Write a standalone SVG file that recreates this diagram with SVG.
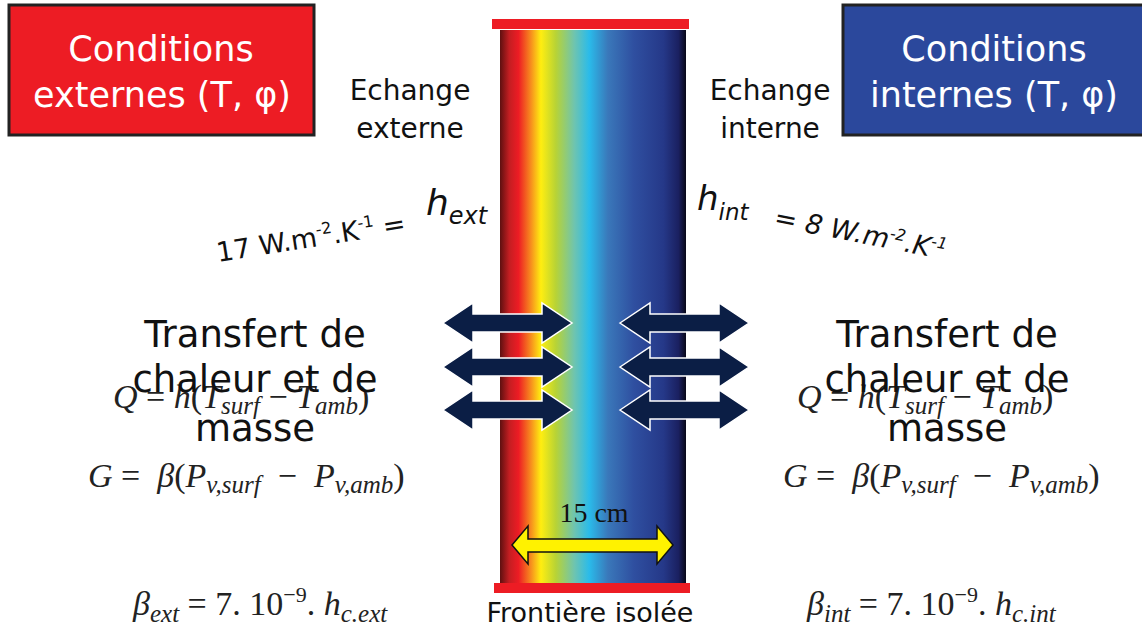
<svg xmlns="http://www.w3.org/2000/svg" width="1142" height="632" viewBox="0 0 1142 632">
<style>
.cs{font-family:"DejaVu Sans","Noto Sans",sans-serif;}
.box{fill:#fff;font-size:35px;text-anchor:middle;}
.lbl{fill:#111;font-size:28px;text-anchor:middle;}
.big{fill:#111;font-size:37px;text-anchor:middle;}
.m{font-family:"Liberation Serif","DejaVu Serif",serif;font-size:34px;fill:#222;font-style:italic;}
.up{font-style:normal;}
.arr{fill:#0B1E45;stroke:#fff;stroke-width:1.5;stroke-linejoin:miter;}
</style>
<defs>
<linearGradient id="wallg" x1="0" y1="0" x2="1" y2="0">
<stop offset="0" stop-color="#5E1010"/>
<stop offset="0.05" stop-color="#C41E22"/>
<stop offset="0.1" stop-color="#ED1C24"/>
<stop offset="0.17" stop-color="#F7941D"/>
<stop offset="0.22" stop-color="#FFEE10"/>
<stop offset="0.3" stop-color="#B8D335"/>
<stop offset="0.4" stop-color="#6EC4B0"/>
<stop offset="0.48" stop-color="#2ABBEA"/>
<stop offset="0.58" stop-color="#3A78BA"/>
<stop offset="0.72" stop-color="#2F4FA0"/>
<stop offset="0.88" stop-color="#253888"/>
<stop offset="0.96" stop-color="#1A2060"/>
<stop offset="1" stop-color="#080818"/>
</linearGradient>
<path id="dbl" d="M0,0 L30,-20 L30,-9 L99,-9 L99,-20 L129,0 L99,20 L99,9 L30,9 L30,20 Z"/>
</defs>

<g id="wall">
<rect x="500" y="30" width="186" height="554" fill="url(#wallg)"/>
<rect x="492" y="19" width="197" height="10" fill="#ED1C24"/>
<rect x="494" y="583" width="196" height="10" fill="#ED1C24"/>
</g>

<g id="ext-box">
<rect x="9" y="5" width="305" height="130" fill="#ED1C24" stroke="#222" stroke-width="3"/>
<text class="cs box" x="161" y="61">Conditions</text>
<text class="cs box" x="162" y="107">externes (T, φ)</text>
</g>

<g id="int-box">
<rect x="843" y="5" width="305" height="130" fill="#2B489C" stroke="#222" stroke-width="3"/>
<text class="cs box" x="994" y="61">Conditions</text>
<text class="cs box" x="994" y="107">internes (T, φ)</text>
</g>

<g id="echange-ext">
<text class="cs lbl" x="410" y="100">Echange</text>
<text class="cs lbl" x="410" y="138">externe</text>
</g>
<g id="echange-int">
<text class="cs lbl" x="770" y="100">Echange</text>
<text class="cs lbl" x="770" y="138">interne</text>
</g>

<g id="hext">
<text class="cs" x="218" y="262" font-size="27" fill="#111" transform="rotate(-9 218 262)">17 W.m<tspan font-size="16" dy="-11">-2</tspan><tspan dy="11">.K</tspan><tspan font-size="16" dy="-11">-1</tspan><tspan dy="11"> =</tspan></text>
<text class="cs" x="426" y="215" font-size="36" fill="#111" font-style="italic">h<tspan font-size="24" dy="9">ext</tspan></text>
</g>

<g id="hint">
<text class="cs" x="697" y="210" font-size="34" fill="#111" font-style="italic">h<tspan font-size="23" dy="10">int</tspan></text>
<text class="cs" x="773" y="226" font-size="27" fill="#111" font-style="italic" transform="rotate(11 773 226)">= 8 W.m<tspan font-size="16" dy="-10">-2</tspan><tspan dy="10">.K</tspan><tspan font-size="16" dy="-10">-1</tspan></text>
</g>

<g id="arrows-ext">
<use href="#dbl" class="arr" transform="translate(443,323)"/>
<use href="#dbl" class="arr" transform="translate(443,367)"/>
<use href="#dbl" class="arr" transform="translate(443,410)"/>
</g>
<g id="arrows-int">
<use href="#dbl" class="arr" transform="translate(620,323)"/>
<use href="#dbl" class="arr" transform="translate(620,367)"/>
<use href="#dbl" class="arr" transform="translate(620,410)"/>
</g>

<g id="formulas-ext">
<text class="m" x="113" y="408">Q <tspan class="up">=  </tspan>h<tspan class="up">(</tspan>T<tspan font-size="25" dy="6">surf</tspan><tspan class="up" dy="-6">  −  </tspan>T<tspan font-size="25" dy="6">amb</tspan><tspan class="up" dy="-6">)</tspan></text>
<text class="m" x="88" y="487" xml:space="preserve">G <tspan class="up">=  </tspan>β<tspan class="up">(</tspan>P<tspan font-size="25" dy="6">v,surf</tspan><tspan class="up" dy="-6">  −  </tspan>P<tspan font-size="25" dy="6">v,amb</tspan><tspan class="up" dy="-6">)</tspan></text>
<text class="m" x="133" y="615">β<tspan font-size="25" dy="7">ext</tspan><tspan class="up" dy="-7"> = 7. 10</tspan><tspan class="up" font-size="22" dy="-13">−9</tspan><tspan class="up" dy="13">.</tspan> h<tspan font-size="25" dy="7">c.ext</tspan></text>
</g>
<g id="formulas-int">
<text class="m" x="797" y="408">Q <tspan class="up">=  </tspan>h<tspan class="up">(</tspan>T<tspan font-size="25" dy="6">surf</tspan><tspan class="up" dy="-6">  −  </tspan>T<tspan font-size="25" dy="6">amb</tspan><tspan class="up" dy="-6">)</tspan></text>
<text class="m" x="783" y="487" xml:space="preserve">G <tspan class="up">=  </tspan>β<tspan class="up">(</tspan>P<tspan font-size="25" dy="6">v,surf</tspan><tspan class="up" dy="-6">  −  </tspan>P<tspan font-size="25" dy="6">v,amb</tspan><tspan class="up" dy="-6">)</tspan></text>
<text class="m" x="807" y="615">β<tspan font-size="25" dy="7">int</tspan><tspan class="up" dy="-7"> = 7. 10</tspan><tspan class="up" font-size="22" dy="-13">−9</tspan><tspan class="up" dy="13">.</tspan> h<tspan font-size="25" dy="7">c.int</tspan></text>
</g>

<g id="transfert-ext">
<text class="cs big" x="255" y="347">Transfert de</text>
<text class="cs big" x="255" y="392">chaleur et de</text>
<text class="cs big" x="255" y="441">masse</text>
</g>
<g id="transfert-int">
<text class="cs big" x="947" y="347">Transfert de</text>
<text class="cs big" x="947" y="392">chaleur et de</text>
<text class="cs big" x="947" y="441">masse</text>
</g>

<g id="thickness">
<text x="594" y="522" font-family="Liberation Serif, serif" font-size="28" fill="#111" text-anchor="middle">15 cm</text>
<path d="M512,545 L528,526 L528,539 L657,539 L657,526 L673,545 L657,564 L657,552 L528,552 L528,564 Z" fill="#FFF200" stroke="#111" stroke-width="1.5"/>
</g>

<g id="frontiere">
<text class="cs" x="590" y="622" font-size="27" fill="#111" text-anchor="middle">Frontière isolée</text>
</g>
</svg>
